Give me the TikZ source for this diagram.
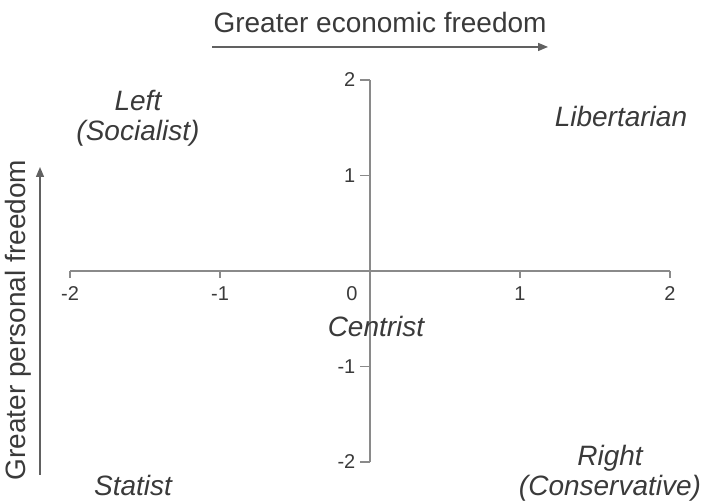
\documentclass[tikz,border=0pt]{standalone}
\usepackage{fontspec}
\setmainfont{Liberation Sans}
\usepackage{xcolor}
\usetikzlibrary{arrows.meta}
\definecolor{axisgray}{HTML}{8A8A8A}
\definecolor{txtgray}{HTML}{3A3A3A}
\tikzset{
  axisline/.style={axisgray, line width=1.6pt},
  tick/.style={axisgray, line width=1.4pt},
  ticklbl/.style={text=txtgray, font=\fontsize{20}{22}\selectfont, inner sep=0pt},
  quad/.style={text=txtgray, font=\fontsize{28}{30}\selectfont\itshape,
               align=center, inner sep=0pt},
  dirlbl/.style={text=txtgray, font=\fontsize{28}{30}\selectfont, inner sep=0pt},
  arr/.style={-{Triangle[length=10pt,width=8pt]}, txtgray!80, line width=1.4pt},
}
\begin{document}
\begin{tikzpicture}[x=150pt, y=95.5pt]
  \useasboundingbox (-2.4667,-2.4398) rectangle (2.2067,2.8377);
  %% axes
  \coordinate (xl) at (-2,0);
  \coordinate (xr) at (2,0);
  \coordinate (yb) at (0,-2);
  \coordinate (yt) at (0,2);
  \draw[axisline] (xl) -- (xr);
  \draw[axisline] (yb) -- (yt);
  \foreach \v/\t in {-2/-2,-1/-1,1/1,2/2}
    \draw[tick] (\v,0) -- ++(0,-7pt) node[ticklbl, below=8pt] {\t};
  \foreach \v/\t in {-2/-2,-1/-1,1/1,2/2}
    \draw[tick] (0,\v) -- ++(-10pt,0) node[ticklbl, left=4pt] {\t};
  \node[ticklbl] (zero) at (-0.12,-0.24) {0};
  %% quadrant labels
  \node[quad] (left) at (-1.547,1.602) {Left\\(Socialist)};
  \node[quad] (lib) at (1.673,1.613) {Libertarian};
  \node[quad] (cen) at (0.04,-0.576) {Centrist};
  \node[quad] (stat) at (-1.58,-2.241) {Statist};
  \node[quad] (right) at (1.6,-2.115) {Right\\(Conservative)};
  %% directions
  \node[dirlbl] (econ) at (0.067,2.607) {Greater economic freedom};
  \coordinate (ea) at (-1.053,2.346);
  \coordinate (eb) at (1.187,2.346);
  \draw[arr] (ea) -- (eb);
  \node[dirlbl, rotate=90] (pers) at (-2.347,-0.513) {Greater personal freedom};
  \coordinate (pa) at (-2.2,-2.136);
  \coordinate (pb) at (-2.2,1.089);
  \draw[arr] (pa) -- (pb);
\end{tikzpicture}
\end{document}
